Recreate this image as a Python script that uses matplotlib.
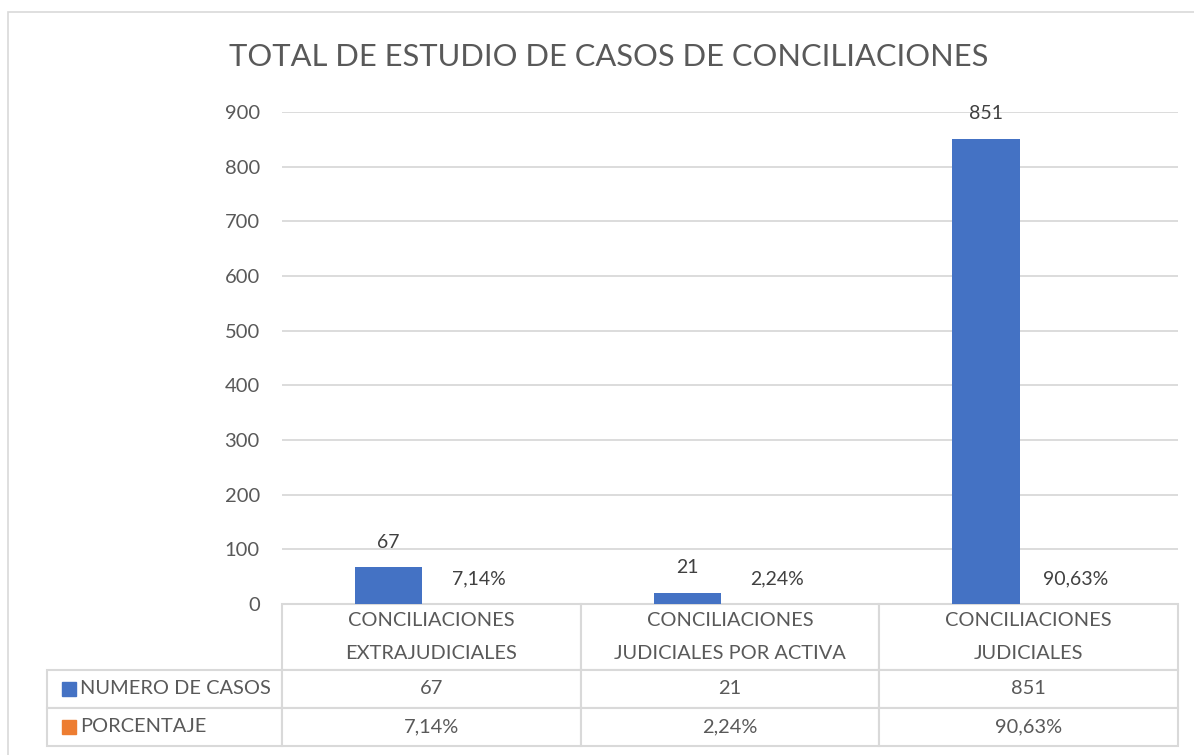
import matplotlib.pyplot as plt
from matplotlib.patches import Rectangle
from matplotlib.table import Table
import numpy as np

plt.rcParams['font.family'] = ['Lato', 'DejaVu Sans']

#--------------------- Data ---------------------
categories = ["CONCILIACIONES\nEXTRAJUDICIALES",
              "CONCILIACIONES\nJUDICIALES POR ACTIVA",
              "CONCILIACIONES\nJUDICIALES"]
series_names = ["NUMERO DE CASOS", "PORCENTAJE"]
casos = [67, 21, 851]
porcentaje = [0.0714, 0.0224, 0.9063]
casos_labels = ["67", "21", "851"]
pct_labels = ["7,14%", "2,24%", "90,63%"]
yticks = [0, 100, 200, 300, 400, 500, 600, 700, 800, 900]

BLUE = "#4472C4"
ORANGE = "#ED7D31"
GREY_TXT = "#595959"
GRID = "#d9d9d9"

#--------------------- Figure ---------------------
W, H = 1194, 755
fig = plt.figure(figsize=(W / 100, H / 100), dpi=100)

# plot area in pixels
left, right, top, bottom = 282, 1178, 112, 604
pw, ph = right - left, bottom - top
ax = fig.add_axes([left / W, 1 - bottom / H, pw / W, ph / H])

# outer chart border (runs off the picture to the right/bottom)
fig.patches.append(Rectangle((8 / W, -0.1), 1.2, 1 - 12 / H + 0.1, transform=fig.transFigure,
                             fill=False, edgecolor=GRID, lw=1.2))

x = np.arange(len(categories))
bw = 0.225
off = 0.143
b1 = ax.bar(x - off, casos, bw, color=BLUE, zorder=3)
b2 = ax.bar(x + off, porcentaje, bw, color=ORANGE, zorder=3)

for rect, lab in zip(b1, casos_labels):
    ax.annotate(lab, (rect.get_x() + rect.get_width() / 2, rect.get_height()),
                xytext=(0, 18), textcoords="offset points", ha="center", va="center",
                fontsize=14, color="#404040")
for rect, lab in zip(b2, pct_labels):
    ax.annotate(lab, (rect.get_x() + rect.get_width() / 2 + 0.015, rect.get_height()),
                xytext=(0, 18), textcoords="offset points", ha="center", va="center",
                fontsize=14, color="#404040")

ax.set_xlim(-0.5, 2.5)
ax.set_ylim(0, 900)
ax.set_yticks(yticks)
ax.set_xticks([])
ax.tick_params(axis="y", length=0, pad=16, labelsize=14.5, labelcolor=GREY_TXT)
ax.grid(axis="y", color=GRID, lw=1.3, zorder=0)
for s in ax.spines.values():
    s.set_visible(False)

fig.text(609 / W, 1 - 57 / H, "TOTAL DE ESTUDIO DE CASOS DE CONCILIACIONES",
         ha="center", va="center", fontsize=22.2, color=GREY_TXT)

#--------------------- Data table ---------------------
# sizes in axes fractions so the bbox scaling is 1
col_w = 1 / 3
lab_w = 235 / pw
head_h, row_h = 66 / ph, 38 / ph
tab_h = head_h + 2 * row_h
tbl = Table(ax, bbox=[0, -tab_h, 1, tab_h])
for j, cat in enumerate(categories):
    tbl.add_cell(0, j, width=col_w, height=head_h, text=cat, loc="center")
for i, (name, vals) in enumerate(zip(series_names, [casos_labels, pct_labels]), start=1):
    c = tbl.add_cell(i, -1, width=lab_w, height=row_h, text=name, loc="left")
    c.PAD = 33 / 235
    for j, v in enumerate(vals):
        tbl.add_cell(i, j, width=col_w, height=row_h, text=v, loc="center")
tbl.auto_set_font_size(False)
tbl.set_fontsize(14.4)
for cell in tbl.get_celld().values():
    cell.set_edgecolor(GRID)
    cell.set_linewidth(1.5)
    cell.get_text().set_color(GREY_TXT)
    cell.get_text().set_linespacing(2.1)
ax.add_table(tbl)

# legend keys in the table
for k, col in enumerate([BLUE, ORANGE]):
    yc = 689 + k * 38
    fig.patches.append(Rectangle((62 / W, 1 - (yc + 7) / H), 14 / W, 14 / H,
                                 transform=fig.transFigure, color=col))

fig.savefig("out.png", dpi=100)
